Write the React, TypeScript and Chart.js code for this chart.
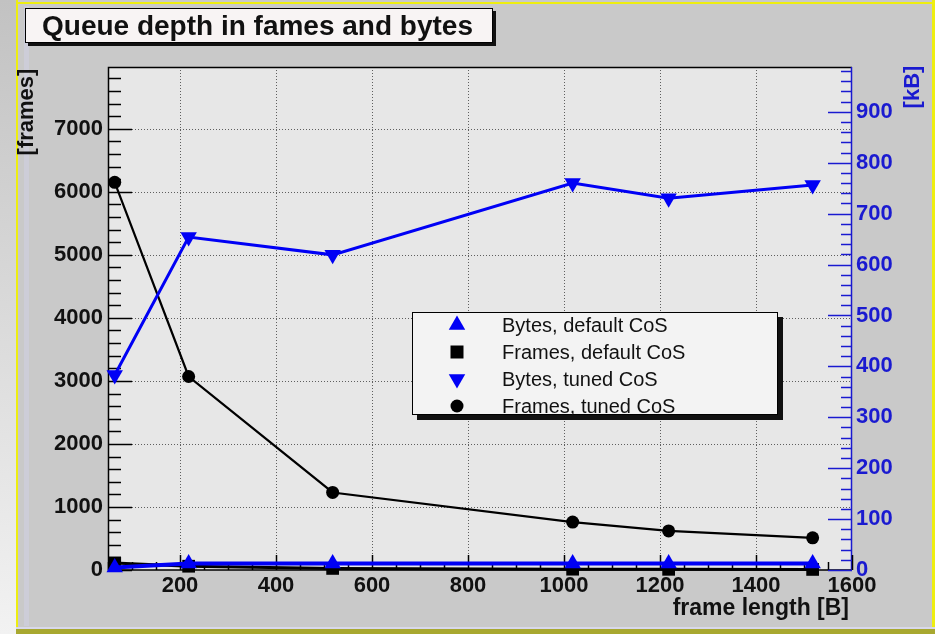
import React, { useEffect, useRef } from "react";
import { Chart, registerables } from "chart.js";

Chart.register(...registerables);

// ---- data ----
const frameLengths = [64, 218, 518, 1018, 1218, 1518];
const bytesDefaultKB = [5, 13, 13, 13, 13, 13];
const framesDefault = [110, 60, 25, 13, 11, 9];
const bytesTunedKB = [383, 654, 619, 760, 730, 756];
const framesTuned = [6150, 3070, 1230, 760, 620, 510];

const xTicks = [200, 400, 600, 800, 1000, 1200, 1400, 1600];
const framesTicks = [0, 1000, 2000, 3000, 4000, 5000, 6000, 7000];
const kbTicks = [0, 100, 200, 300, 400, 500, 600, 700, 800, 900];

const legendLabels = [
  "Bytes, default CoS",
  "Frames, default CoS",
  "Bytes, tuned CoS",
  "Frames, tuned CoS",
];

const chartTitle = "Queue depth in fames and bytes";
const xTitle = "frame length [B]";
const yTitle = "[frames]";
const y1Title = "[kB]";

const W = 935;
const H = 634;
const BLUE = "#0000f5";
const BLUE_TXT = "#1a1ad0";
const FONT = '"Liberation Sans", Arial, Helvetica, sans-serif';

function pts(xs: number[], ys: number[]) {
  return xs.map((x, i) => ({ x, y: ys[i] }));
}

function drawMarker(ctx: CanvasRenderingContext2D, kind: string, x: number, y: number, color: string) {
  ctx.fillStyle = color;
  ctx.beginPath();
  if (kind === "up") {
    const r = 9.5;
    ctx.moveTo(x, y - r);
    ctx.lineTo(x + r * 0.866, y + r * 0.5);
    ctx.lineTo(x - r * 0.866, y + r * 0.5);
    ctx.closePath();
  } else if (kind === "down") {
    const r = 9.5;
    ctx.moveTo(x, y + r);
    ctx.lineTo(x + r * 0.866, y - r * 0.5);
    ctx.lineTo(x - r * 0.866, y - r * 0.5);
    ctx.closePath();
  } else if (kind === "square") {
    ctx.rect(x - 6.5, y - 6.5, 13, 13);
  } else {
    ctx.arc(x, y, 6.5, 0, Math.PI * 2);
  }
  ctx.fill();
}

const decorPlugin = {
  id: "decor",
  beforeDraw(chart: any) {
    const ctx: CanvasRenderingContext2D = chart.ctx;
    const { left, right, top, bottom } = chart.chartArea;
    const xs = chart.scales.x;
    const ys = chart.scales.y;
    ctx.save();
    ctx.fillStyle = "#c9c9c9";
    ctx.fillRect(0, 0, W, H);
    const g = ctx.createLinearGradient(0, 0, 0, H);
    g.addColorStop(0, "#c2c2c2");
    g.addColorStop(1, "#f2f2f2");
    ctx.fillStyle = g;
    ctx.fillRect(0, 0, 16, H);
    ctx.fillStyle = "#eeee10";
    ctx.fillRect(16, 0, 2, H - 6);
    ctx.fillRect(16, 2, W - 16, 2);
    ctx.fillRect(W - 3, 0, 3, H);
    ctx.fillStyle = "#cdcdd8";
    ctx.fillRect(24, 6, 5, H - 14);
    ctx.fillStyle = "#d8d8ea";
    ctx.fillRect(16, H - 7, W - 16, 2);
    ctx.fillStyle = "#a8a830";
    ctx.fillRect(16, H - 5, W - 16, 5);

    ctx.fillStyle = "#e7e7e7";
    ctx.fillRect(left, top, right - left, bottom - top);

    ctx.strokeStyle = "rgba(70,70,70,0.85)";
    ctx.lineWidth = 1;
    ctx.setLineDash([1, 2]);
    xTicks.forEach((v) => {
      const px = Math.round(xs.getPixelForValue(v)) + 0.5;
      if (px > left + 1 && px < right - 1) {
        ctx.beginPath();
        ctx.moveTo(px, top);
        ctx.lineTo(px, bottom);
        ctx.stroke();
      }
    });
    framesTicks.forEach((v) => {
      const py = Math.round(ys.getPixelForValue(v)) + 0.5;
      if (py > top + 1 && py < bottom - 1) {
        ctx.beginPath();
        ctx.moveTo(left, py);
        ctx.lineTo(right, py);
        ctx.stroke();
      }
    });
    ctx.setLineDash([]);
    ctx.restore();
  },
  beforeDatasetsDraw(chart: any) {
    const ctx: CanvasRenderingContext2D = chart.ctx;
    const { left, right, top, bottom } = chart.chartArea;
    const xs = chart.scales.x;
    const ys = chart.scales.y;
    const y1 = chart.scales.y1;
    ctx.save();
    ctx.lineWidth = 1.5;
    ctx.strokeStyle = "#000";
    ctx.beginPath();
    ctx.moveTo(right, top + 0.5);
    ctx.lineTo(left + 0.5, top + 0.5);
    ctx.lineTo(left + 0.5, bottom);
    ctx.lineTo(right, bottom);
    ctx.stroke();
    ctx.strokeStyle = BLUE_TXT;
    ctx.beginPath();
    ctx.moveTo(right - 0.5, top);
    ctx.lineTo(right - 0.5, bottom);
    ctx.stroke();

    ctx.strokeStyle = "#000";
    for (let v = 0; v <= ys.max; v += 200) {
      const py = Math.round(ys.getPixelForValue(v)) + 0.5;
      const major = v % 1000 === 0;
      ctx.beginPath();
      ctx.moveTo(left, py);
      ctx.lineTo(left + (major ? 24 : 13), py);
      ctx.stroke();
    }
    for (let v = 50; v <= 1600; v += 50) {
      const px = Math.round(xs.getPixelForValue(v)) + 0.5;
      const major = v % 200 === 0;
      ctx.beginPath();
      ctx.moveTo(px, bottom);
      ctx.lineTo(px, bottom - (major ? 15 : 8));
      ctx.stroke();
    }
    ctx.strokeStyle = BLUE_TXT;
    for (let v = 0; v <= y1.max; v += 20) {
      const py = Math.round(y1.getPixelForValue(v)) + 0.5;
      const major = v % 100 === 0;
      ctx.beginPath();
      ctx.moveTo(right, py);
      ctx.lineTo(right - (major ? 24 : 11), py);
      ctx.stroke();
    }
    ctx.restore();
  },
  afterDraw(chart: any) {
    const ctx: CanvasRenderingContext2D = chart.ctx;
    const { right } = chart.chartArea;
    ctx.save();
    // title box
    ctx.fillStyle = "#111";
    ctx.fillRect(28, 11, 468, 35);
    ctx.fillStyle = "#f8f4f4";
    ctx.fillRect(25, 8, 468, 35);
    ctx.strokeStyle = "#000";
    ctx.lineWidth = 1;
    ctx.strokeRect(25.5, 8.5, 467, 34);
    ctx.fillStyle = "#111";
    ctx.font = `bold 28px ${FONT}`;
    ctx.textAlign = "left";
    ctx.textBaseline = "alphabetic";
    ctx.fillText(chartTitle, 42, 35);

    ctx.font = `bold 22px ${FONT}`;
    ctx.textAlign = "center";
    ctx.textBaseline = "middle";
    ctx.save();
    ctx.translate(27, 112);
    ctx.rotate(-Math.PI / 2);
    ctx.fillStyle = "#111";
    ctx.fillText(yTitle, 0, 0);
    ctx.restore();
    ctx.save();
    ctx.translate(913, 87);
    ctx.rotate(-Math.PI / 2);
    ctx.fillStyle = BLUE_TXT;
    ctx.fillText(y1Title, 0, 0);
    ctx.restore();
    ctx.fillStyle = "#111";
    ctx.font = `bold 23px ${FONT}`;
    ctx.textAlign = "right";
    ctx.fillText(xTitle, right - 3, 609);

    // legend
    const lx = 412, ly = 312, lw = 366, lh = 103;
    ctx.fillStyle = "#111";
    ctx.fillRect(lx + 5, ly + 5, lw, lh);
    ctx.fillStyle = "#f3f3f3";
    ctx.fillRect(lx, ly, lw, lh);
    ctx.strokeStyle = "#000";
    ctx.strokeRect(lx + 0.5, ly + 0.5, lw - 1, lh - 1);
    const kinds = ["up", "square", "down", "circle"];
    const cols = [BLUE, "#000", BLUE, "#000"];
    ctx.font = `20px ${FONT}`;
    ctx.textAlign = "left";
    ctx.textBaseline = "middle";
    legendLabels.forEach((t, i) => {
      const cy = 325 + i * 27;
      drawMarker(ctx, kinds[i], 457, cy, cols[i]);
      ctx.fillStyle = "#111";
      ctx.fillText(t, 502, cy + 1);
    });
    ctx.restore();
  },
};

export default function App() {
  const ref = useRef<HTMLCanvasElement | null>(null);
  useEffect(() => {
    if (!ref.current) return;
    const tickFont = { family: FONT, size: 22, weight: "bold" as const };
    const chart = new Chart(ref.current, {
      type: "line",
      data: {
        datasets: [
          {
            label: legendLabels[0],
            data: pts(frameLengths, bytesDefaultKB),
            yAxisID: "y1",
            borderColor: BLUE,
            backgroundColor: BLUE,
            borderWidth: 4,
            pointStyle: "triangle",
            pointRadius: 9.5,
            pointBorderWidth: 0,
            tension: 0,
            clip: false as any,
          },
          {
            label: legendLabels[1],
            data: pts(frameLengths, framesDefault),
            yAxisID: "y",
            borderColor: "#000",
            backgroundColor: "#000",
            borderWidth: 3,
            pointStyle: "rect",
            pointRadius: 9,
            pointBorderWidth: 0,
            tension: 0,
            clip: false as any,
          },
          {
            label: legendLabels[2],
            data: pts(frameLengths, bytesTunedKB),
            yAxisID: "y1",
            borderColor: BLUE,
            backgroundColor: BLUE,
            borderWidth: 3,
            pointStyle: "triangle",
            pointRotation: 180,
            pointRadius: 9.5,
            pointBorderWidth: 0,
            tension: 0,
            clip: false as any,
          },
          {
            label: legendLabels[3],
            data: pts(frameLengths, framesTuned),
            yAxisID: "y",
            borderColor: "#000",
            backgroundColor: "#000",
            borderWidth: 2.2,
            pointStyle: "circle",
            pointRadius: 6.5,
            pointBorderWidth: 0,
            tension: 0,
            clip: false as any,
          },
        ],
      },
      options: {
        animation: false,
        responsive: false,
        maintainAspectRatio: false,
        layout: { padding: { top: 67, left: 0, right: 0, bottom: 0 } },
        plugins: {
          legend: { display: false },
          title: { display: false },
          tooltip: { enabled: false },
        },
        scales: {
          x: {
            type: "linear",
            min: 50,
            max: 1600,
            afterBuildTicks: (s: any) => {
              s.ticks = xTicks.map((v) => ({ value: v }));
            },
            afterFit: (s: any) => {
              s.height = 64;
            },
            grid: { display: false, drawTicks: false },
            border: { display: false },
            ticks: {
              padding: 3,
              color: "#111",
              font: tickFont,
              maxRotation: 0,
              autoSkip: false,
              callback: (v: any) => String(v),
            },
          },
          y: {
            type: "linear",
            position: "left",
            min: 0,
            max: 7980,
            afterBuildTicks: (s: any) => {
              s.ticks = framesTicks.map((v) => ({ value: v }));
            },
            afterFit: (s: any) => {
              s.width = 108;
            },
            grid: { display: false, drawTicks: false },
            border: { display: false },
            ticks: {
              padding: 5,
              color: "#111",
              font: tickFont,
              autoSkip: false,
              callback: (v: any) => String(v),
            },
          },
          y1: {
            type: "linear",
            position: "right",
            min: 0,
            max: 988,
            afterBuildTicks: (s: any) => {
              s.ticks = kbTicks.map((v) => ({ value: v }));
            },
            afterFit: (s: any) => {
              s.width = 83;
            },
            grid: { display: false, drawTicks: false },
            border: { display: false },
            ticks: {
              padding: 4,
              color: BLUE_TXT,
              font: tickFont,
              autoSkip: false,
              callback: (v: any) => String(v),
            },
          },
        },
      },
      plugins: [decorPlugin],
    } as any);
    return () => chart.destroy();
  }, []);

  return (
    <div style={{ position: "absolute", left: 0, top: 0, width: W, height: H }}>
      <canvas ref={ref} width={W} height={H} style={{ display: "block", width: W, height: H }} />
    </div>
  );
}
